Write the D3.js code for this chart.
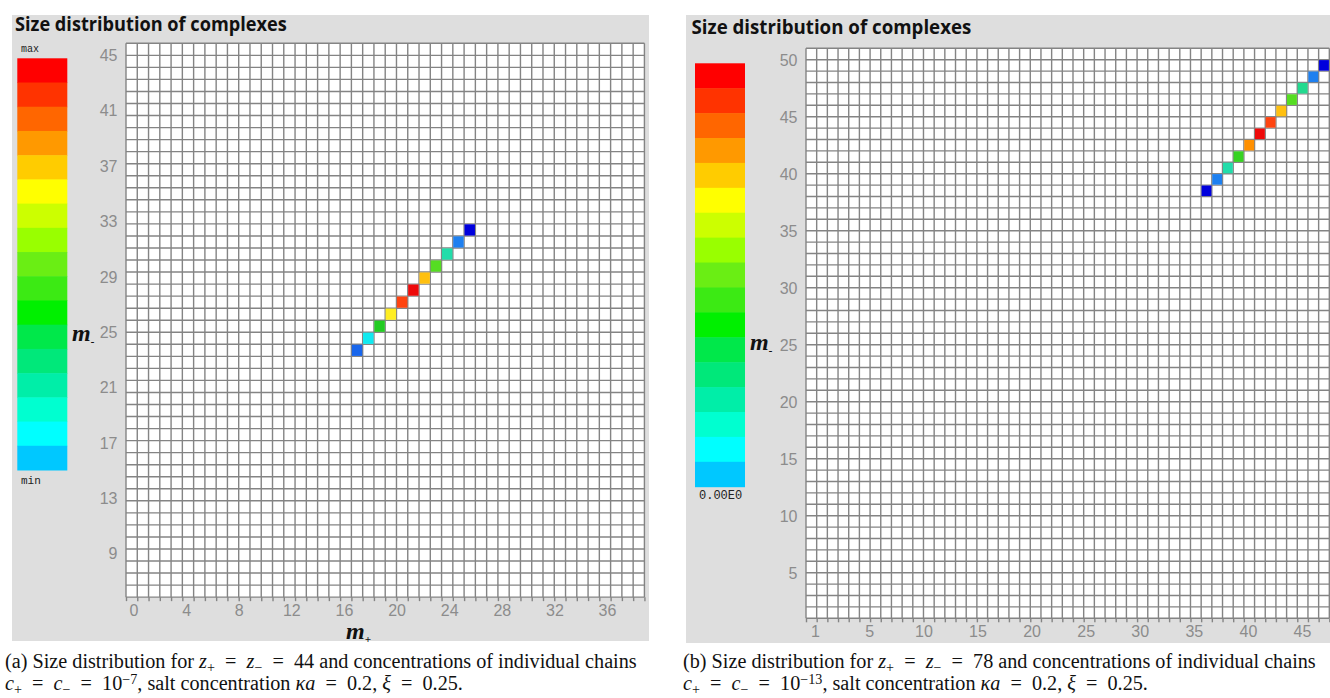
<!DOCTYPE html>
<html>
<head>
<meta charset="utf-8">
<script src="https://cdn.jsdelivr.net/npm/d3@7"></script>
<style>
body { margin: 0; background: #fff; }
</style>
</head>
<body>
<svg id="chart" width="1330" height="698"></svg>
<script>
// legend bands, from max (top) down to min
var legendColors = ["#ff0000", "#ff3300", "#ff6600", "#ff9900", "#ffcc00", "#ffff00", "#ccff00", "#99ff00",
  "#6aee14", "#3cea14", "#00f000", "#00e84a", "#00e87a", "#00eea8", "#00ffd0", "#00ffff", "#00c8ff"];

// colour of a filled cell from its share of the peak (0 = smallest, 1 = largest)
var shareStops = [0, 0.1, 0.25, 0.35, 0.5, 0.62, 0.75, 0.83, 0.88, 0.95, 1];
var shareColors = ["#0000dd", "#1e80f0", "#10eaf0", "#22ddaa", "#22cc22", "#55dd22", "#ffee22", "#ffc010", "#ff9000", "#ff4410", "#ee0a0a"];

// (a) z = 44, c = 1e-7 : grid cells and the filled ones
var colsA = 46, rowsA = 46;
var plusA = [20, 21, 22, 23, 24, 25, 26, 27, 28, 29, 30];
var minusA = [20, 21, 22, 23, 24, 25, 26, 27, 28, 29, 30];
var shareA = [0.08, 0.25, 0.5, 0.75, 0.95, 1, 0.83, 0.62, 0.35, 0.1, 0];
var xTicksA = [0, 4, 8, 12, 16, 20, 24, 28, 32, 36];
var yTicksA = [45, 41, 37, 33, 29, 25, 21, 17, 13, 9];

// (b) z = 78, c = 1e-13
var colsB = 49, rowsB = 50;
var plusB = [37, 38, 39, 40, 41, 42, 43, 44, 45, 46, 47, 48];
var minusB = [37, 38, 39, 40, 41, 42, 43, 44, 45, 46, 47, 48];
var shareB = [0, 0.1, 0.35, 0.55, 0.88, 1, 0.95, 0.83, 0.62, 0.38, 0.1, 0];
var xTicksB = [1, 5, 10, 15, 20, 25, 30, 35, 40, 45];
var yTicksB = [50, 45, 40, 35, 30, 25, 20, 15, 10, 5];

var svg = d3.select("#chart");

var shareColor = d3.scaleLinear().domain(shareStops).range(shareColors);

// squeeze/stretch a text horizontally so it covers w pixels
function fitText(t, x0, y0, w) {
  var bw = t.node().getComputedTextLength();
  t.attr("transform", "translate(" + x0 + "," + y0 + ") scale(" + (w / bw) + ",1)");
  return w / bw;
}

function drawPanel(p) {
  var g = svg.append("g");

  g.append("rect")
    .attr("x", p.bg[0]).attr("y", p.bg[1])
    .attr("width", p.bg[2]).attr("height", p.bg[3])
    .attr("fill", "#dedede");

  var title = g.append("text")
    .attr("font-family", "'Open Sans', sans-serif")
    .attr("font-weight", 700)
    .attr("font-size", 19)
    .attr("fill", "#111")
    .text("Size distribution of complexes");
  fitText(title, p.titleX, p.titleY, p.titleW);

  // one unit = one grid cell
  var x = d3.scaleLinear().domain([0, p.cols]).range([p.left, p.left + p.cols * p.cw]);
  var y = d3.scaleLinear().domain([0, p.rows]).range([p.top + p.rows * p.ch, p.top]);

  g.append("rect")
    .attr("x", x(0)).attr("y", y(p.rows))
    .attr("width", x(p.cols) - x(0)).attr("height", y(0) - y(p.rows))
    .attr("fill", "#fff");

  var lines = g.append("g").attr("stroke", "#848484").attr("stroke-width", 1.4);
  lines.selectAll(".v").data(d3.range(p.cols + 1)).enter().append("line")
    .attr("x1", x).attr("x2", x)
    .attr("y1", y(0)).attr("y2", y(p.rows));
  lines.selectAll(".h").data(d3.range(p.rows + 1)).enter().append("line")
    .attr("y1", y).attr("y2", y)
    .attr("x1", x(0)).attr("x2", x(p.cols));

  // small ticks under every column line
  var tickAxis = g.append("g")
    .attr("transform", "translate(0," + y(0) + ")")
    .call(d3.axisBottom(x).tickValues(d3.range(p.cols + 1)).tickSize(4).tickFormat(""));
  tickAxis.select(".domain").remove();
  tickAxis.selectAll("line").attr("stroke", "#848484").attr("stroke-width", 1.4);

  // filled cells
  var cells = p.plus.map(function(d, i) {
    return { c: d, r: p.minus[i], s: p.share[i] };
  });
  g.selectAll(".cell").data(cells).enter().append("rect")
    .attr("x", function(d) { return x(d.c) + 0.4; })
    .attr("y", function(d) { return y(d.r + 1) + 0.4; })
    .attr("width", function(d) { return x(d.c + 1) - x(d.c) - 0.8; })
    .attr("height", function(d) { return y(d.r) - y(d.r + 1) - 0.8; })
    .attr("fill", function(d) { return shareColor(d.s); });

  // tick labels (they do not follow the cells in the original)
  var xl = d3.scaleLinear().domain(p.xLabDom).range(p.xLabRange);
  var yl = d3.scaleLinear().domain(p.yLabDom).range(p.yLabRange);

  var xAxis = g.append("g")
    .attr("transform", "translate(0," + p.xLabY + ")")
    .call(d3.axisBottom(xl).tickValues(p.xTicks).tickSize(0).tickPadding(0));
  var yAxis = g.append("g")
    .attr("transform", "translate(" + p.yLabX + ",0)")
    .call(d3.axisLeft(yl).tickValues(p.yTicks).tickSize(0).tickPadding(0));
  [xAxis, yAxis].forEach(function(a) {
    a.select(".domain").remove();
    a.attr("font-family", "'Liberation Sans', Arial, sans-serif").attr("font-size", 16);
    a.selectAll("text").attr("fill", "#8c8c8c").attr("dy", "0.35em");
  });

  // colour legend
  var lb = d3.scaleBand().domain(d3.range(legendColors.length)).range([p.legTop, p.legBottom]);
  g.selectAll(".leg").data(legendColors).enter().append("rect")
    .attr("x", p.legX).attr("width", 50)
    .attr("y", function(d, i) { return lb(i); })
    .attr("height", lb.bandwidth() + 0.5)
    .attr("fill", function(d) { return d; });

  p.legText.forEach(function(t) {
    g.append("text")
      .attr("x", t[1]).attr("y", t[2])
      .attr("font-family", "'Liberation Mono', monospace")
      .attr("font-size", t[3])
      .attr("fill", "#222")
      .text(t[0]);
  });

  // axis names
  p.names.forEach(function(n) {
    var t = g.append("text")
      .attr("x", n[1]).attr("y", n[2])
      .attr("font-family", "'Liberation Serif', 'Times New Roman', serif")
      .attr("font-style", "italic")
      .attr("font-weight", 700)
      .attr("font-size", 24)
      .attr("fill", "#111");
    t.append("tspan").text("m");
    t.append("tspan").attr("font-size", 11).attr("dy", 4).text(n[0]);
  });
}

drawPanel({
  bg: [12, 15, 637, 626],
  titleX: 15, titleY: 30.5, titleW: 272,
  cols: colsA, rows: rowsA, left: 126, top: 43.3, cw: 11.27, ch: 12.04,
  plus: plusA, minus: minusA, share: shareA,
  xTicks: xTicksA, yTicks: yTicksA,
  xLabDom: [0, 36], xLabRange: [133.5, 607], xLabY: 610,
  yLabDom: [9, 45], yLabRange: [553.3, 55], yLabX: 117.5,
  legX: 17.3, legTop: 58.3, legBottom: 470,
  legText: [["max", 21, 51.5, 10], ["min", 21, 483.5, 11]],
  names: [["-", 72, 341], ["+", 346, 639]]
});

drawPanel({
  bg: [686, 15, 644, 628],
  titleX: 691.5, titleY: 34, titleW: 280,
  cols: colsB, rows: rowsB, left: 806, top: 48.3, cw: 10.68, ch: 11.4,
  plus: plusB, minus: minusB, share: shareB,
  xTicks: xTicksB, yTicks: yTicksB,
  // "1" sits apart from the others, so this label scale is piecewise
  xLabDom: [1, 5, 45], xLabRange: [815, 869.3, 1302], xLabY: 631,
  yLabDom: [5, 50], yLabRange: [572.7, 59.5], yLabX: 797.5,
  legX: 695, legTop: 63.3, legBottom: 486.7,
  legText: [["0.00E0", 699, 499, 12]],
  names: [["-", 750, 350]]
});

// captions
var EQ = "\u2002=\u2002";
function caption(x0, y0, parts, w, k) {
  var t = svg.append("text")
    .attr("font-family", "'Liberation Serif', 'Times New Roman', serif")
    .attr("font-size", 20)
    .attr("fill", "#111");
  parts.forEach(function(p) {
    var s = t.append("tspan").text(p.t);
    if (p.i) s.attr("font-style", "italic");
    if (p.sub) s.attr("font-size", 14).attr("baseline-shift", "-25%");
    if (p.sup) s.attr("font-size", 14).attr("baseline-shift", "45%");
  });
  if (w) return fitText(t, x0, y0, w);
  t.attr("transform", "translate(" + x0 + "," + y0 + ") scale(" + k + ",1)");
  return k;
}

function line1(z) {
  return [{ t: "(" + z[0] + ") Size distribution for " }, { t: "z", i: 1 }, { t: "+", sub: 1 },
    { t: EQ }, { t: "z", i: 1 }, { t: "\u2212", sub: 1 },
    { t: EQ + z[1] + " and concentrations of individual chains" }];
}
function line2(e) {
  return [{ t: "c", i: 1 }, { t: "+", sub: 1 }, { t: EQ }, { t: "c", i: 1 }, { t: "\u2212", sub: 1 },
    { t: EQ + "10" }, { t: "\u2212" + e, sup: 1 }, { t: ", salt concentration " },
    { t: "\u03baa", i: 1 }, { t: EQ + "0.2, " }, { t: "\u03be", i: 1 }, { t: EQ + "0.25." }];
}

var kA = caption(5, 668, line1(["a", 44]), 632);
caption(5, 690, line2(7), null, kA);
var kB = caption(683, 668, line1(["b", 78]), 633);
caption(683, 690, line2(13), null, kB);
</script>
</body>
</html>
